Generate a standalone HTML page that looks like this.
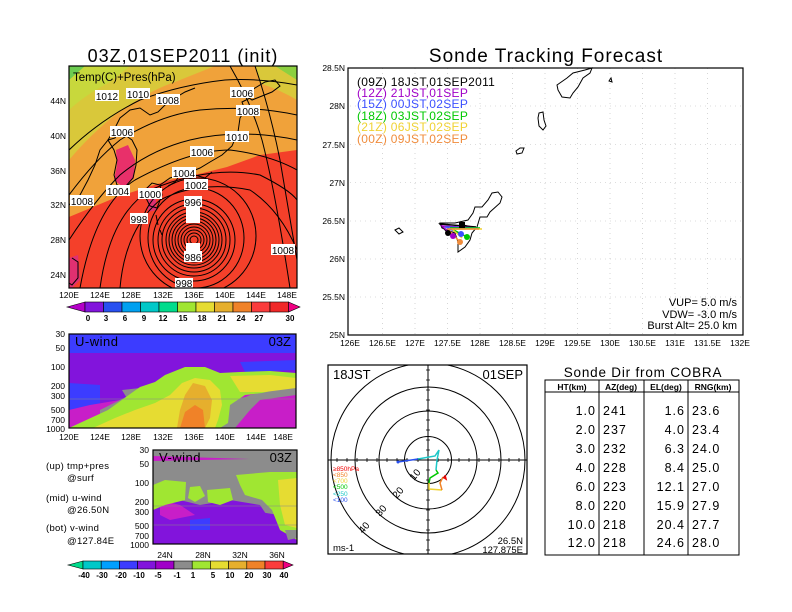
<!DOCTYPE html>
<html><head><meta charset="utf-8"><style>
html,body{margin:0;padding:0;background:#fff;}
svg{display:block;}
text{font-family:"Liberation Sans",sans-serif;}
</style></head><body>
<svg width="792" height="612" viewBox="0 0 792 612" xmlns="http://www.w3.org/2000/svg">
<rect width="792" height="612" fill="#fff"/>

<!-- ============ TOP LEFT MAP ============ -->
<text x="183" y="62" font-size="18" text-anchor="middle" letter-spacing="1">03Z,01SEP2011  (init)</text>
<defs><clipPath id="cm"><rect x="69" y="66" width="228" height="222"/></clipPath>
<clipPath id="cp"><rect x="328" y="365" width="199" height="189"/></clipPath></defs>
<g clip-path="url(#cm)">
<rect x="69" y="66" width="228" height="222" fill="#f0a23a"/>
<path d="M69,66 L69,160 Q90,135 115,115 Q150,90 175,82 L215,66 Z" fill="#d9c83a"/>
<path d="M69,66 L69,110 Q85,95 110,82 L130,66 Z" fill="#c8d83c"/>
<path d="M69,66 L69,80 L85,66Z" fill="#6ccc50"/>
<path d="M255,66 L297,66 L297,100 Q280,90 262,84 Z" fill="#d9c83a"/>
<path d="M275,66 L297,66 L297,80 Z" fill="#8cd040"/>
<path d="M69,217 L117,197 L170,180 L203,173 L227,167 L260,155 L297,150 L297,288 L69,288 Z" fill="#f4402a"/>
<path d="M116,150 L128,145 L135,160 L134,178 L124,188 L114,180 L117,165 Z" fill="#e8306a"/>
<path d="M148,200 L156,198 L156,210 L148,212 Z" fill="#e03070"/>
<path d="M69,258 L78,255 L80,280 L72,288 L69,288Z" fill="#e03070"/>
<!-- coast lines -->
<g fill="none" stroke="#000" stroke-width="1">
<path d="M69,205 L80,195 L88,180 L95,165 L100,150 L108,140 L115,128 L120,118 L130,110 L140,108 L150,115 L158,112 L165,105 L175,98 L185,92 L195,88"/>
<path d="M108,140 L115,138 L118,132 L125,135 L132,140 L137,150 L136,165 L133,178 L125,187 L117,185 L114,175 L117,160 L114,150 Z"/>
<path d="M145,190 L152,183 L160,185 L162,195 L157,208 L150,206 L146,198 Z"/>
<path d="M160,185 L170,178 L180,175 L190,172 L200,168 L210,162 L222,155 L232,146 L238,132 L240,118 L245,110 L242,102 L250,98"/>
<path d="M180,175 L175,182 L168,186 M195,175 L205,178 L212,172"/>
<path d="M245,95 L255,88 L265,82 L275,80 L280,86 L272,92 L262,96 L252,100 Z"/>
<path d="M72,258 L78,262 L78,278 L72,285 L69,283"/>
<path d="M156,215 L158,225 M160,230 L162,235"/>
</g>
<!-- isobars -->
<g fill="none" stroke="#000" stroke-width="1">
<circle cx="194" cy="240" r="4"/><circle cx="194" cy="240" r="7"/><circle cx="194" cy="240" r="10"/>
<circle cx="194" cy="240" r="13"/><circle cx="194" cy="240" r="16"/><circle cx="194" cy="240" r="19"/>
<circle cx="194" cy="240" r="22"/><circle cx="194" cy="240" r="25"/><circle cx="194" cy="240" r="28"/>
<circle cx="194" cy="240" r="32"/><circle cx="194" cy="240" r="36"/><circle cx="194" cy="240" r="41"/>
<ellipse cx="196" cy="238" rx="48" ry="50"/><ellipse cx="198" cy="236" rx="58" ry="58"/>
<path d="M120,288 Q125,230 160,200 Q200,180 250,190 Q280,210 297,250"/>
<path d="M100,288 Q110,215 150,190 Q210,165 260,175 Q290,190 297,200"/>
<path d="M80,288 Q95,205 135,180 Q190,150 230,150 Q270,155 297,170"/>
<path d="M69,240 Q95,200 120,175 Q150,150 190,140 Q240,128 297,140"/>
<path d="M69,195 Q95,160 120,140 Q160,115 200,110 Q250,105 297,115"/>
<path d="M69,150 Q100,120 140,100 Q180,85 225,80 Q260,78 297,85"/>
<path d="M230,66 Q250,100 262,140 Q275,190 290,288"/>
<path d="M255,66 Q270,110 280,160 Q290,220 297,260"/>
</g>
<g font-size="10" text-anchor="middle">
<g fill="#fff"><rect x="95" y="90" width="24" height="11"/><rect x="126" y="88" width="24" height="11"/><rect x="156" y="94" width="24" height="11"/>
<rect x="230" y="87" width="24" height="11"/><rect x="236" y="105" width="24" height="11"/><rect x="225" y="131" width="24" height="11"/>
<rect x="190" y="146" width="24" height="11"/><rect x="172" y="167" width="24" height="11"/><rect x="184" y="179" width="24" height="11"/>
<rect x="138" y="188" width="24" height="11"/><rect x="106" y="185" width="24" height="11"/><rect x="110" y="126" width="24" height="11"/>
<rect x="70" y="195" width="24" height="11"/><rect x="184" y="196" width="18" height="11"/><rect x="130" y="213" width="18" height="11"/>
<rect x="184" y="251" width="18" height="11"/><rect x="175" y="278" width="18" height="10"/><rect x="271" y="244" width="24" height="11"/>
<rect x="186" y="207" width="14" height="16"/><rect x="186" y="243" width="14" height="8"/></g>
<text x="107" y="100">1012</text><text x="138" y="98">1010</text><text x="168" y="104">1008</text>
<text x="242" y="97">1006</text><text x="248" y="115">1008</text><text x="237" y="141">1010</text>
<text x="202" y="156">1006</text><text x="184" y="177">1004</text><text x="196" y="189">1002</text>
<text x="150" y="198">1000</text><text x="118" y="195">1004</text><text x="122" y="136">1006</text>
<text x="82" y="205">1008</text><text x="193" y="206">996</text><text x="139" y="223">998</text>
<text x="193" y="261">986</text><text x="184" y="287">998</text><text x="283" y="254">1008</text>
</g>
<text x="73" y="81" font-size="11.5">Temp(C)+Pres(hPa)</text>
</g>
<rect x="69" y="66" width="228" height="222" fill="none" stroke="#000" stroke-width="1.2"/>
<g font-size="8.5" text-anchor="end">
<text x="66" y="104">44N</text><text x="66" y="139">40N</text><text x="66" y="174">36N</text>
<text x="66" y="208">32N</text><text x="66" y="243">28N</text><text x="66" y="278">24N</text></g>
<g font-size="8.5" text-anchor="middle">
<text x="69" y="298">120E</text><text x="100" y="298">124E</text><text x="131" y="298">128E</text><text x="163" y="298">132E</text>
<text x="194" y="298">136E</text><text x="225" y="298">140E</text><text x="256" y="298">144E</text><text x="287" y="298">148E</text></g>
<!-- temp colorbar -->
<g stroke="#000" stroke-width="0.6">
<path d="M67,307 L85,302 L85,312 Z" fill="#b400c8"/>
<rect x="85" y="302" width="18.5" height="10" fill="#8214dc"/>
<rect x="103.5" y="302" width="18.5" height="10" fill="#2850f0"/>
<rect x="122" y="302" width="18.5" height="10" fill="#00a0f0"/>
<rect x="140.5" y="302" width="18.5" height="10" fill="#00c8c8"/>
<rect x="159" y="302" width="18.5" height="10" fill="#00dc8c"/>
<rect x="177.5" y="302" width="18.5" height="10" fill="#a0e632"/>
<rect x="196" y="302" width="18.5" height="10" fill="#e6dc32"/>
<rect x="214.5" y="302" width="18.5" height="10" fill="#e6af2d"/>
<rect x="233" y="302" width="18.5" height="10" fill="#f08228"/>
<rect x="251.5" y="302" width="18.5" height="10" fill="#fa3c3c"/>
<rect x="270" y="302" width="18.5" height="10" fill="#f02828"/>
<path d="M288.5,302 L300,307 L288.5,312 Z" fill="#f00082"/>
</g>
<g font-size="8" font-weight="bold" text-anchor="middle">
<text x="88" y="321">0</text><text x="106" y="321">3</text><text x="125" y="321">6</text><text x="144" y="321">9</text>
<text x="163" y="321">12</text><text x="183" y="321">15</text><text x="202" y="321">18</text><text x="222" y="321">21</text>
<text x="241" y="321">24</text><text x="259" y="321">27</text><text x="290" y="321">30</text></g>

<!-- ============ U-WIND ============ -->
<g>
<rect x="69" y="334" width="227" height="94" fill="#8214dc"/>
<rect x="69" y="334" width="227" height="19" fill="#3c3cff"/>
<path d="M240,362 L296,360 L296,370 L245,372Z" fill="#3c3cff"/>
<path d="M69,383 L100,385 L100,405 L80,410 L69,410Z" fill="#3c3cff"/>
<path d="M69,410 L90,405 L120,400 L150,398 L180,395 L200,405 L230,410 L260,405 L296,400 L296,428 L69,428Z" fill="#c81ec8"/>
<path d="M230,395 L296,392 L296,428 L240,428 Z" fill="#c81ec8"/>
<path d="M100,410 L130,395 L150,390 L180,388 L200,398 L230,405 L250,395 L296,385 L296,395 L260,400 L240,420 L230,428 L100,428 Z" fill="#8c8c8c"/>
<path d="M122,390 L140,388 L148,398 L128,400Z" fill="#8c8c8c"/>
<path d="M222,404 L240,398 L258,395 L250,410 L235,428 L222,428Z" fill="#8c8c8c"/>
<path d="M69,428 L108,410 L126,397 L140,387 L155,382 L165,375 L185,367 L205,367 L220,373 L240,372 L270,371 L296,373 L296,385 L262,393 L245,395 L230,405 L228,423 L220,428 Z" fill="#a0e632"/>
<path d="M93,428 L115,418 L135,410 L155,403 L170,395 L182,383 L195,378 L210,380 L220,390 L222,405 L218,420 L215,428Z" fill="#e6dc32"/>
<path d="M230,376 L270,375 L296,378 L296,388 L265,392 L240,392Z" fill="#e6dc32"/>
<path d="M177,428 L180,410 L185,395 L193,383 L205,386 L212,400 L210,418 L205,428Z" fill="#e6af2d"/>
<path d="M180,428 L185,412 L195,405 L203,410 L205,428Z" fill="#f08228"/>
<line x1="69" y1="399" x2="296" y2="399" stroke="#888" stroke-width="0.6"/>
</g>
<rect x="69" y="334" width="227" height="94" fill="none" stroke="#000" stroke-width="1.2"/>
<text x="75" y="346" font-size="13" letter-spacing="0.5">U-wind</text>
<text x="291" y="346" font-size="13" text-anchor="end">03Z</text>
<g font-size="8.5" text-anchor="end">
<text x="65" y="337">30</text><text x="65" y="351">50</text><text x="65" y="370">100</text><text x="65" y="389">200</text>
<text x="65" y="399">300</text><text x="65" y="413">500</text><text x="65" y="423">700</text><text x="65" y="432">1000</text></g>
<g font-size="8.5" text-anchor="middle">
<text x="69" y="440">120E</text><text x="100" y="440">124E</text><text x="131" y="440">128E</text><text x="163" y="440">132E</text>
<text x="194" y="440">136E</text><text x="225" y="440">140E</text><text x="256" y="440">144E</text><text x="283" y="440">148E</text></g>

<!-- ============ V-WIND ============ -->
<g>
<rect x="153" y="450" width="144" height="94" fill="#8c8c8c"/>
<path d="M153,456 L250,459 L153,461Z" fill="#c81ec8"/>
<path d="M153,512 L190,510 L230,508 L260,512 L297,518 L297,544 L153,544Z" fill="#8214dc"/>
<path d="M153,505 L180,500 L200,505 L230,500 L260,505 L270,520 L265,535 L255,544 L153,544Z" fill="#8214dc"/>
<path d="M160,500 L180,505 L195,515 L170,520 L160,515Z" fill="#c81ec8"/>
<path d="M190,520 L210,518 L210,530 L190,530Z" fill="#3c3cff"/>
<path d="M153,485 L165,480 L186,482 L185,500 L165,505 L153,510 Z" fill="#a0e632"/>
<path d="M190,487 L200,486 L205,496 L195,502 L188,498Z" fill="#a0e632"/>
<path d="M207,490 L230,488 L233,500 L220,505 L208,502Z" fill="#a0e632"/>
<path d="M236,475 L270,472 L297,472 L297,540 L280,530 L272,510 L262,500 L245,495 L240,485Z" fill="#a0e632"/>
<path d="M278,480 L297,478 L297,528 L285,525 L280,505Z" fill="#e6dc32"/>
<path d="M285,530 L297,530 L297,538 L288,540Z" fill="#8c8c8c"/>
<line x1="153" y1="506" x2="297" y2="506" stroke="#888" stroke-width="0.6"/>
<line x1="153" y1="525" x2="297" y2="525" stroke="#888" stroke-width="0.6"/>
</g>
<rect x="153" y="450" width="144" height="94" fill="none" stroke="#000" stroke-width="1.2"/>
<text x="159" y="462" font-size="13" letter-spacing="0.5">V-wind</text>
<text x="292" y="462" font-size="13" text-anchor="end">03Z</text>
<g font-size="8.5" text-anchor="end">
<text x="149" y="453">30</text><text x="149" y="467">50</text><text x="149" y="486">100</text><text x="149" y="505">200</text>
<text x="149" y="515">300</text><text x="149" y="529">500</text><text x="149" y="539">700</text><text x="149" y="548">1000</text></g>
<g font-size="8.5" text-anchor="middle">
<text x="165" y="558">24N</text><text x="203" y="558">28N</text><text x="240" y="558">32N</text><text x="277" y="558">36N</text></g>
<g font-size="9.5" letter-spacing="0.3">
<text x="46" y="469">(up) tmp+pres</text><text x="67" y="481">@surf</text>
<text x="46" y="501">(mid) u-wind</text><text x="67" y="513">@26.50N</text>
<text x="46" y="531">(bot) v-wind</text><text x="67" y="544">@127.84E</text></g>
<!-- wind colorbar -->
<g stroke="#000" stroke-width="0.6">
<path d="M68,565 L83,561 L83,569Z" fill="#00dc8c"/>
<rect x="83" y="561" width="18.2" height="8" fill="#00c8c8"/>
<rect x="101.2" y="561" width="18.2" height="8" fill="#00a0ff"/>
<rect x="119.4" y="561" width="18.2" height="8" fill="#3c3cff"/>
<rect x="137.6" y="561" width="18.2" height="8" fill="#8214dc"/>
<rect x="155.8" y="561" width="18.2" height="8" fill="#a000c8"/>
<rect x="174" y="561" width="18.2" height="8" fill="#8c8c8c"/>
<rect x="192.2" y="561" width="18.2" height="8" fill="#a0e632"/>
<rect x="210.4" y="561" width="18.2" height="8" fill="#e6dc32"/>
<rect x="228.6" y="561" width="18.2" height="8" fill="#e6af2d"/>
<rect x="246.8" y="561" width="18.2" height="8" fill="#f08228"/>
<rect x="265" y="561" width="18.2" height="8" fill="#fa3c3c"/>
<path d="M283.2,561 L293,565 L283.2,569Z" fill="#f00082"/>
</g>
<g font-size="8" font-weight="bold" text-anchor="middle">
<text x="84" y="578">-40</text><text x="102" y="578">-30</text><text x="121" y="578">-20</text><text x="139" y="578">-10</text>
<text x="158" y="578">-5</text><text x="177" y="578">-1</text><text x="193" y="578">1</text><text x="213" y="578">5</text>
<text x="230" y="578">10</text><text x="249" y="578">20</text><text x="267" y="578">30</text><text x="284" y="578">40</text></g>

<!-- ============ TRACK MAP ============ -->
<text x="546" y="62" font-size="19" text-anchor="middle" letter-spacing="1">Sonde Tracking Forecast</text>
<g stroke="#bbb" stroke-width="0.6" stroke-dasharray="1,4">
<line x1="382.5" y1="68" x2="382.5" y2="335"/><line x1="415" y1="68" x2="415" y2="335"/><line x1="447.5" y1="68" x2="447.5" y2="335"/>
<line x1="480" y1="68" x2="480" y2="335"/><line x1="512.5" y1="68" x2="512.5" y2="335"/><line x1="545" y1="68" x2="545" y2="335"/>
<line x1="577.5" y1="68" x2="577.5" y2="335"/><line x1="610" y1="68" x2="610" y2="335"/><line x1="642.5" y1="68" x2="642.5" y2="335"/>
<line x1="675" y1="68" x2="675" y2="335"/><line x1="707.5" y1="68" x2="707.5" y2="335"/>
<line x1="350" y1="106" x2="743" y2="106"/><line x1="350" y1="144.5" x2="743" y2="144.5"/><line x1="350" y1="182.5" x2="743" y2="182.5"/>
<line x1="350" y1="221" x2="743" y2="221"/><line x1="350" y1="259" x2="743" y2="259"/><line x1="350" y1="297" x2="743" y2="297"/>
</g>
<g fill="none" stroke="#000" stroke-width="1">
<path d="M498,192 L502,197 L500,203 L490,212 L487,217 L480,217 L477,227 L472,233 L470,240 L465,247 L458,252 L458,242 L455,233 L442,228 L440,223 L455,223 L468,220 L473,213 L475,207 L482,207 L488,200 L492,193 Z"/>
<path d="M557,85 L567,78 L573,73 L585,70 L592,68 L590,73 L583,78 L578,87 L573,93 L570,98 L562,97 L558,90 Z"/>
<path d="M539,113 L543,112 L544,120 L546,126 L543,130 L539,126 L538,118 Z"/>
<path d="M516,151 L520,148 L524,148 L522,153 L517,154 Z"/>
<path d="M395,230 L399,228 L403,232 L399,234 Z"/>
<path d="M609,81 L611,78 L612,82 Z"/>
</g>
<!-- tracks -->
<g stroke-width="1.5" fill="none">
<path d="M476,227 L440,224 L448,233" stroke="#000"/>
<path d="M476,228 L462,225" stroke="#000"/>
<path d="M477,228 L442,226 L453,236" stroke="#a000c8"/>
<path d="M478,228 L445,227 L461,234" stroke="#3c50ff"/>
<path d="M480,228 L450,228 L467,237" stroke="#00c800"/>
<path d="M482,229 L452,229 L462,238" stroke="#f0d232"/>
<path d="M479,229 L448,229 L460,242" stroke="#f08c3c"/>
</g>
<rect x="459" y="222" width="6" height="6" fill="#000"/>
<circle cx="448" cy="233" r="3" fill="#000"/><circle cx="453" cy="236" r="3" fill="#a000c8"/>
<circle cx="461" cy="234" r="3" fill="#3c50ff"/><circle cx="467" cy="237" r="3" fill="#00c800"/>
<circle cx="460" cy="242" r="3" fill="#f08c3c"/>
<rect x="348" y="68" width="395" height="267" fill="none" stroke="#000" stroke-width="1.2"/>
<g font-size="12" letter-spacing="0.3">
<text x="357" y="86" fill="#000">(09Z)  18JST,01SEP2011</text>
<text x="357" y="97" fill="#a000c8">(12Z)  21JST,01SEP</text>
<text x="357" y="108" fill="#3c50ff">(15Z)  00JST,02SEP</text>
<text x="357" y="120" fill="#00c800">(18Z)  03JST,02SEP</text>
<text x="357" y="131" fill="#f0d232">(21Z)  06JST,02SEP</text>
<text x="357" y="143" fill="#f08c3c">(00Z)  09JST,02SEP</text></g>
<g font-size="11" text-anchor="end">
<text x="737" y="306">VUP=  5.0 m/s</text><text x="737" y="318">VDW= -3.0 m/s</text><text x="737" y="329">Burst Alt= 25.0 km</text></g>
<g font-size="8.5" text-anchor="end">
<text x="345" y="71">28.5N</text><text x="345" y="109">28N</text><text x="345" y="148">27.5N</text><text x="345" y="186">27N</text>
<text x="345" y="224">26.5N</text><text x="345" y="262">26N</text><text x="345" y="300">25.5N</text><text x="345" y="338">25N</text></g>
<g font-size="8.5" text-anchor="middle">
<text x="350" y="346">126E</text><text x="382.5" y="346">126.5E</text><text x="415" y="346">127E</text><text x="447.5" y="346">127.5E</text>
<text x="480" y="346">128E</text><text x="512.5" y="346">128.5E</text><text x="545" y="346">129E</text><text x="577.5" y="346">129.5E</text>
<text x="610" y="346">130E</text><text x="642.5" y="346">130.5E</text><text x="675" y="346">131E</text><text x="707.5" y="346">131.5E</text><text x="740" y="346">132E</text></g>

<!-- ============ POLAR ============ -->
<g clip-path="url(#cp)" fill="none" stroke="#000" stroke-width="1">
<circle cx="428" cy="460" r="23.5"/><circle cx="428" cy="460" r="49"/><circle cx="428" cy="460" r="73"/><circle cx="428" cy="460" r="97"/>
<line x1="328" y1="460" x2="527" y2="460"/><line x1="428" y1="365" x2="428" y2="554"/>
</g>
<g stroke="#000" stroke-width="0.8">
<path d="M337,458v4M347,458v4M357,458v4M367,458v4M377,458v4M387,458v4M397,458v4M407,458v4M418,458v4M438,458v4M448,458v4M459,458v4M469,458v4M479,458v4M489,458v4M499,458v4M509,458v4M519,458v4"/>
<path d="M426,370h4M426,380h4M426,390h4M426,400h4M426,410h4M426,420h4M426,430h4M426,440h4M426,450h4M426,470h4M426,480h4M426,490h4M426,500h4M426,510h4M426,520h4M426,530h4M426,540h4M426,550h4"/>
</g>
<rect x="328" y="365" width="199" height="189" fill="none" stroke="#000" stroke-width="1.2"/>
<g fill="none" stroke-width="1.5">
<path d="M398,462 L418,459" stroke="#2850f0"/>
<path d="M418,459 L435,456 L439,450 L437,460 L436,470" stroke="#1ec8c8"/>
<path d="M436,470 L438,473 L430,478 L429,483" stroke="#00c800"/>
<path d="M429,483 L429,489 L442,490" stroke="#f0d232"/>
<path d="M442,490 L440,483 L443,477" stroke="#f08228"/>
<path d="M443,477 L446,479 L445,475" stroke="#f00000"/>
</g>
<circle cx="398" cy="462" r="1.5" fill="#2850f0"/>
<g font-size="10" transform="rotate(-50)">
</g>
<text font-size="10" transform="translate(414,481) rotate(-50)">10</text>
<text font-size="10" transform="translate(397,499) rotate(-50)">20</text>
<text font-size="10" transform="translate(380,517) rotate(-50)">30</text>
<text font-size="10" transform="translate(363,534) rotate(-50)">40</text>
<g font-size="6.5">
<text x="333" y="471" fill="#f00000">≥850hPa</text><text x="333" y="477" fill="#f08228">&lt;850</text>
<text x="333" y="483" fill="#f0d232">&lt;700</text><text x="333" y="489" fill="#00c800">&lt;500</text>
<text x="333" y="496" fill="#1ec8c8">&lt;250</text><text x="333" y="502" fill="#2850f0">&lt;100</text></g>
<text x="333" y="379" font-size="13">18JST</text>
<text x="523" y="379" font-size="13" text-anchor="end">01SEP</text>
<text x="333" y="551" font-size="9.5">ms-1</text>
<text x="523" y="544" font-size="9.5" text-anchor="end">26.5N</text>
<text x="523" y="553" font-size="9.5" text-anchor="end">127.875E</text>

<!-- ============ TABLE ============ -->
<text x="643" y="377" font-size="13.5" text-anchor="middle" letter-spacing="0.8">Sonde Dir from COBRA</text>
<g fill="none" stroke="#000" stroke-width="1">
<rect x="545" y="380" width="194" height="175"/>
<line x1="545" y1="392" x2="739" y2="392"/>
<line x1="599" y1="380" x2="599" y2="555"/><line x1="644" y1="380" x2="644" y2="555"/><line x1="688" y1="380" x2="688" y2="555"/>
</g>
<g font-size="8.5" font-weight="bold" text-anchor="middle">
<text x="572" y="390">HT(km)</text><text x="621" y="390">AZ(deg)</text><text x="666" y="390">EL(deg)</text><text x="713" y="390">RNG(km)</text></g>
<g font-size="12.5" letter-spacing="1">
<g text-anchor="end">
<text x="596" y="415">1.0</text><text x="596" y="434">2.0</text><text x="596" y="453">3.0</text><text x="596" y="472">4.0</text>
<text x="596" y="491">6.0</text><text x="596" y="510">8.0</text><text x="596" y="529">10.0</text><text x="596" y="547">12.0</text>
<text x="685" y="415">1.6</text><text x="685" y="434">4.0</text><text x="685" y="453">6.3</text><text x="685" y="472">8.4</text>
<text x="685" y="491">12.1</text><text x="685" y="510">15.9</text><text x="685" y="529">20.4</text><text x="685" y="547">24.6</text></g>
<text x="603" y="415">241</text><text x="603" y="434">237</text><text x="603" y="453">232</text><text x="603" y="472">228</text>
<text x="603" y="491">223</text><text x="603" y="510">220</text><text x="603" y="529">218</text><text x="603" y="547">218</text>
<text x="692" y="415">23.6</text><text x="692" y="434">23.4</text><text x="692" y="453">24.0</text><text x="692" y="472">25.0</text>
<text x="692" y="491">27.0</text><text x="692" y="510">27.9</text><text x="692" y="529">27.7</text><text x="692" y="547">28.0</text>
</g>
</svg>
</body></html>
